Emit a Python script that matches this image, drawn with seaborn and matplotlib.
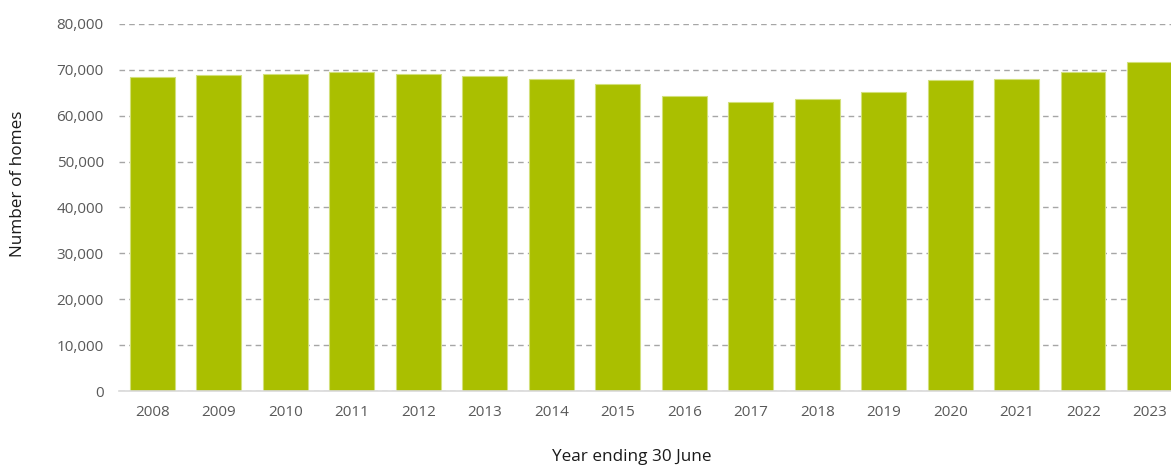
import matplotlib
matplotlib.use("Agg")
import matplotlib.pyplot as plt
import seaborn as sns
import pandas as pd

years = ["2008", "2009", "2010", "2011", "2012", "2013", "2014", "2015",
         "2016", "2017", "2018", "2019", "2020", "2021", "2022", "2023"]
homes = [68400, 68900, 69200, 69500, 69200, 68600, 68100, 67000,
         64200, 63100, 63700, 65100, 67800, 68100, 69500, 71800]
yticks = [0, 10000, 20000, 30000, 40000, 50000, 60000, 70000, 80000]

sns.set_theme(style="white")
plt.rcParams['font.family'] = ['Open Sans', 'DejaVu Sans']

df = pd.DataFrame({"year": years, "homes": homes})

fig = plt.figure(figsize=(11.71, 4.65), dpi=100)
ax = fig.add_axes([119/1171, (465-391)/465, 1 - 119/1171, (391-24)/465])

sns.barplot(data=df, x="year", y="homes", color="#AABF00", width=0.67,
            edgecolor="#D2E07A", linewidth=0.8, ax=ax, saturation=1)

ax.set_ylim(0, 80000)
ax.set_xlim(-0.5, 15.32)
ax.set_yticks(yticks)
ax.set_yticklabels([f"{v:,}" for v in yticks])
ax.yaxis.grid(True, linestyle=(0, (4, 3)), color="#A6A6A6", linewidth=1)
ax.set_axisbelow(True)
for s in ["top", "right", "left"]:
    ax.spines[s].set_visible(False)
ax.spines["bottom"].set_color("#D9D9D9")
ax.spines["bottom"].set_linewidth(1.2)
ax.tick_params(axis="both", length=0, labelsize=11, colors="#595959")
ax.tick_params(axis="y", pad=11)
ax.tick_params(axis="x", pad=10)
ax.set_xlabel("")
ax.set_ylabel("")

fig.text(18/1171, 1 - 184/465, "Number of homes", rotation=90, ha="center",
         va="center", fontsize=12.3, color="#1a1a1a")
fig.text(632/1171, 1 - 457/465, "Year ending 30 June", ha="center",
         va="center", fontsize=12.3, color="#1a1a1a")

fig.savefig("out.png", dpi=100)
